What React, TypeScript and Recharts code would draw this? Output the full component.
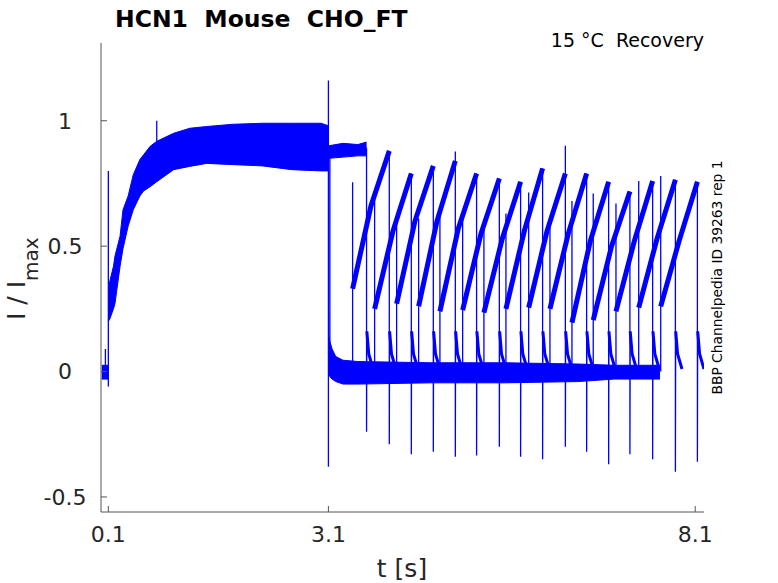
import React from 'react';
import {ComposedChart, Line, Area, XAxis, YAxis} from 'recharts';

const BLUE = '#0000ff';
const AXIS = '#555555';
const TXT = '#262626';
const FONT = '"DejaVu Sans", sans-serif';

const xTicks = [0.1, 3.1, 8.1];
const yTicks = [-0.5, 0, 0.5, 1];

// baseline before the activating pulse
const preT = [0.01, 0.1];
const preLow = [-0.03, -0.03];
const preHigh = [0.025, 0.025];

// activating pulse 0.1 - 3.1 s, envelope of all overlaid sweeps
const actT = [0.1, 0.12, 0.17, 0.19, 0.26, 0.3, 0.37, 0.44, 0.53, 0.58, 0.67, 0.76, 0.99, 1.21, 1.44, 1.8, 2.2, 2.6, 3.0, 3.1];
const actLow = [0.2, 0.21, 0.25, 0.27, 0.42, 0.49, 0.58, 0.645, 0.7, 0.72, 0.737, 0.757, 0.805, 0.818, 0.83, 0.825, 0.82, 0.805, 0.8, 0.8];
const actHigh = [0.35, 0.36, 0.42, 0.46, 0.54, 0.645, 0.7, 0.785, 0.845, 0.864, 0.898, 0.918, 0.95, 0.97, 0.977, 0.986, 0.99, 0.99, 0.99, 0.98];

// first sweep: test pulse right after the activating pulse
const k0T = [3.1, 3.3, 3.5, 3.62];
const k0Low = [0.85, 0.855, 0.86, 0.86];
const k0High = [0.9, 0.91, 0.905, 0.915];

// deactivation at holding potential
const deactT = [3.1, 3.12, 3.15, 3.2, 3.3, 3.5, 4.5, 5.5, 6.5, 7.0, 7.62];
const deactLow = [-0.01, -0.02, -0.03, -0.04, -0.05, -0.05, -0.045, -0.045, -0.04, -0.03, -0.03];
const deactHigh = [0.15, 0.12, 0.09, 0.06, 0.045, 0.04, 0.035, 0.035, 0.03, 0.025, 0.025];

// recovery test pulses, one per sweep
const TEST_LEN = 0.5;
const testOnset = [3.12, 3.43, 3.73, 4.03, 4.33, 4.62, 4.93, 5.22, 5.52, 5.83, 6.12, 6.42, 6.71, 7.02, 7.33, 7.63];
const rampStart = [0.88, 0.33, 0.25, 0.27, 0.26, 0.24, 0.245, 0.235, 0.25, 0.255, 0.25, 0.195, 0.205, 0.24, 0.255, 0.26];
const rampMid = [0.88, 0.66, 0.56, 0.6, 0.6, 0.57, 0.55, 0.53, 0.56, 0.56, 0.55, 0.52, 0.5, 0.52, 0.53, 0.52];
const rampEnd = [0.89, 0.88, 0.79, 0.82, 0.84, 0.79, 0.77, 0.757, 0.81, 0.79, 0.79, 0.757, 0.718, 0.76, 0.765, 0.757];
const onsetPeak = [0.88, 0.755, 0.685, 0.62, 0.61, 0.66, 0.62, 0.565, 0.63, 0.714, 0.6, 0.68, 0.71, 0.67, 0.76, 0.78];
const offsetPeak = [-0.24, -0.29, -0.33, -0.32, -0.34, -0.335, -0.3, -0.34, -0.35, -0.3, -0.32, -0.37, -0.33, -0.35, -0.4, -0.36];

// tail current after each test pulse
const tailOffset = [0.004, 0.03, 0.09];
const tailLevel = [0.16, 0.07, 0.01];

// capacitive transients at the activating pulse edges
const edgeT = [0.1, 3.1];
const edgeLow = [-0.06, -0.38];
const edgeHigh = [0.8, 1.16];

// isolated glitches
const glitchT = [0.06, 0.76, 4.83, 6.33];
const glitchFrom = [0, 0.9, 0.84, 0.79];
const glitchTo = [0.09, 1.0, 0.877, 0.9];

type Pt = {t: number; y: number | null};

const band = (t: number[], lo: number[], hi: number[]) =>
    t.map((v, i) => ({t: v, r: [lo[i], hi[i]]}));

const rampData: Pt[] = testOnset.flatMap((t0, k) => [
    {t: t0, y: rampStart[k]},
    {t: t0 + TEST_LEN / 2, y: rampMid[k]},
    {t: t0 + TEST_LEN, y: rampEnd[k]},
    {t: t0 + TEST_LEN, y: null},
]);

const tailData: Pt[] = testOnset.flatMap((t0) => [
    ...tailOffset.map((o, i) => ({t: t0 + TEST_LEN + o, y: tailLevel[i]})),
    {t: t0 + TEST_LEN + 0.1, y: null},
]);

const spikeData: Pt[] = [
    ...edgeT.flatMap((t, i) => [{t, y: edgeLow[i]}, {t, y: edgeHigh[i]}, {t, y: null}]),
    ...glitchT.flatMap((t, i) => [{t, y: glitchFrom[i]}, {t, y: glitchTo[i]}, {t, y: null}]),
    ...testOnset.flatMap((t0, k) => [
        {t: t0, y: 0},
        {t: t0, y: onsetPeak[k]},
        {t: t0, y: rampStart[k]},
        {t: t0, y: null},
        {t: t0 + TEST_LEN, y: rampEnd[k]},
        {t: t0 + TEST_LEN, y: offsetPeak[k]},
        {t: t0 + TEST_LEN + tailOffset[0], y: tailLevel[0]},
        {t: t0 + TEST_LEN + tailOffset[0], y: null},
    ]),
];

const XTick = (props: any) => {
    const {x, y, payload} = props;
    return (
        <g>
            <line x1={x} x2={x} y1={y} y2={y - 6} stroke={AXIS}/>
            <text x={x} y={y + 30} textAnchor="middle" fontSize={22} fill={TXT} fontFamily={FONT}>
                {payload.value}
            </text>
        </g>
    );
};

const YTick = (props: any) => {
    const {x, y, payload} = props;
    return (
        <g>
            <line x1={x} x2={x + 6} y1={y} y2={y} stroke={AXIS}/>
            <text x={x - 36} y={y} dy="0.36em" textAnchor="middle" fontSize={22} fill={TXT} fontFamily={FONT}>
                {payload.value}
            </text>
        </g>
    );
};

const areaProps = {
    dataKey: 'r',
    stroke: BLUE,
    strokeWidth: 1,
    fill: BLUE,
    fillOpacity: 1,
    dot: false,
    activeDot: false,
    isAnimationActive: false,
} as const;

export default function App() {
    return (
        <div style={{position: 'absolute', left: 0, top: 0, width: 778, height: 583, background: '#fff'}}>
            <ComposedChart width={778} height={583} margin={{top: 43, right: 74, bottom: 31, left: 41}}>
                <XAxis dataKey="t" type="number" domain={[0, 8.22]} allowDataOverflow ticks={xTicks}
                       interval={0} height={40} tickSize={0} tickMargin={0} tickLine={false}
                       axisLine={{stroke: AXIS}} tick={<XTick/>}/>
                <YAxis type="number" domain={[-0.56, 1.31]} allowDataOverflow ticks={yTicks}
                       interval={0} width={60} tickSize={0} tickMargin={0} tickLine={false}
                       axisLine={{stroke: AXIS}} tick={<YTick/>}/>

                <Area data={band(preT, preLow, preHigh)} {...areaProps}/>
                <Area data={band(actT, actLow, actHigh)} {...areaProps}/>
                <Area data={band(k0T, k0Low, k0High)} {...areaProps}/>
                <Area data={band(deactT, deactLow, deactHigh)} {...areaProps}/>

                <Line data={tailData} dataKey="y" stroke={BLUE} strokeWidth={3} dot={false}
                      activeDot={false} isAnimationActive={false}/>
                <Line data={spikeData} dataKey="y" stroke={BLUE} strokeWidth={1.3} dot={false}
                      activeDot={false} isAnimationActive={false}/>
                <Line data={rampData} dataKey="y" stroke={BLUE} strokeWidth={5} dot={false}
                      activeDot={false} isAnimationActive={false}/>
            </ComposedChart>

            <svg width={778} height={583} style={{position: 'absolute', left: 0, top: 0, pointerEvents: 'none'}}>
                <text x={115} y={27} fontSize={23.5} fontWeight="bold" fill="#000" fontFamily={FONT}
                      style={{whiteSpace: 'pre'}}>HCN1  Mouse  CHO_FT</text>
                <text x={704} y={47} fontSize={19} textAnchor="end" fill="#000" fontFamily={FONT}
                      style={{whiteSpace: 'pre'}}>15 °C  Recovery</text>
                <text x={402} y={577} fontSize={25} textAnchor="middle" fill={TXT} fontFamily={FONT}>t [s]</text>
                <text transform="translate(25, 320) rotate(-90)" fontSize={25} fill={TXT} fontFamily={FONT}
                      style={{whiteSpace: 'pre'}}>
                    I / I<tspan fontSize={20} dy={13}>max</tspan>
                </text>
                <text transform="translate(722, 277.5) rotate(-90)" fontSize={13.8} textAnchor="middle"
                      fill="#000" fontFamily={FONT}>BBP Channelpedia ID 39263 rep 1</text>
            </svg>
        </div>
    );
}
